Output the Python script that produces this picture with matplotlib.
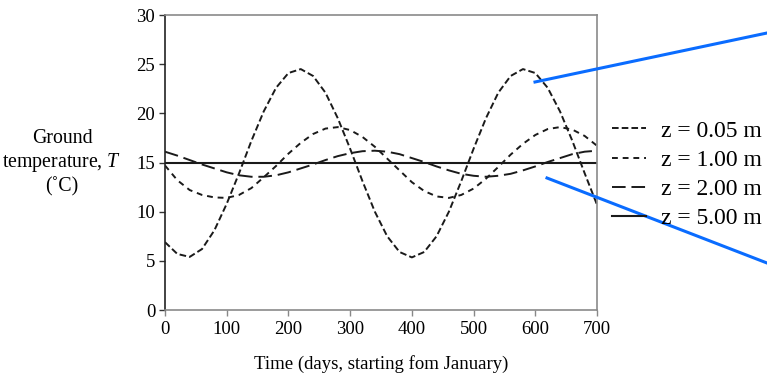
import matplotlib
matplotlib.use("Agg")
import matplotlib.pyplot as plt
from matplotlib.lines import Line2D

# dados (dias, temperatura em graus C)
days = [0, 20, 40, 60, 80, 100, 120, 140, 160, 180, 200, 220, 240, 260, 280, 300,
        320, 340, 360, 380, 400, 420, 440, 460, 480, 500, 520, 540, 560, 580, 600,
        620, 640, 660, 680, 700]

t_005 = [6.9, 5.7, 5.4, 6.2, 8.1, 10.8, 13.9, 17.2, 20.2, 22.6, 24.1, 24.5, 23.8,
         22.1, 19.5, 16.4, 13.1, 10.0, 7.5, 5.9, 5.35, 5.9, 7.5, 10.0, 13.1, 16.4,
         19.5, 22.1, 23.8, 24.5, 24.1, 22.6, 20.2, 17.2, 13.9, 10.7]

t_100 = [14.7, 13.2, 12.2, 11.7, 11.45, 11.4, 11.7, 12.4, 13.5, 14.65, 15.9, 17.0,
         17.9, 18.45, 18.6, 18.3, 17.6, 16.6, 15.4, 14.2, 13.0, 12.1, 11.55, 11.4,
         11.7, 12.35, 13.35, 14.55, 15.8, 16.9, 17.8, 18.4, 18.6, 18.35, 17.7, 16.7]

t_200 = [16.1, 15.7, 15.25, 14.8, 14.4, 14.0, 13.7, 13.55, 13.55, 13.7, 14.0, 14.4,
         14.8, 15.25, 15.65, 15.95, 16.15, 16.2, 16.1, 15.85, 15.45, 15.05, 14.6,
         14.2, 13.85, 13.65, 13.55, 13.65, 13.85, 14.2, 14.6, 15.05, 15.45, 15.85,
         16.1, 16.2]

t_500 = [14.9] * len(days)

labels = ["z = 0.05 m", "z = 1.00 m", "z = 2.00 m", "z = 5.00 m"]
x_ticks = [0, 100, 200, 300, 400, 500, 600, 700]
y_ticks = [0, 5, 10, 15, 20, 25, 30]

plt.rcParams['font.family'] = ['Liberation Serif', 'DejaVu Serif']
plt.rcParams['mathtext.fontset'] = 'custom'
plt.rcParams['mathtext.it'] = 'Liberation Serif:italic'
plt.rcParams['mathtext.rm'] = 'Liberation Serif'
fs = 13.5

fig = plt.figure(figsize=(7.67, 3.8), dpi=100)
ax = fig.add_axes([0.2151, 0.1842, 0.5633, 0.7763])

c = '#1a1a1a'
ax.plot(days, t_005, color=c, lw=1.4, linestyle=(0, (3.4, 1.6)), label=labels[0])
ax.plot(days, t_100, color=c, lw=1.4, linestyle=(0, (3.0, 2.5)), label=labels[1])
ax.plot(days, t_200, color=c, lw=1.4, linestyle=(0, (7.0, 3.0)), label=labels[2])
ax.plot(days, t_500, color=c, lw=1.5, linestyle='-', label=labels[3])

ax.set_xlim(0, 700)
ax.set_ylim(0, 30)
ax.set_xticks(x_ticks)
ax.set_yticks(y_ticks)
ax.tick_params(axis='both', direction='out', length=4, width=1.0, labelsize=fs, pad=3)
ax.tick_params(axis='x', color='#888888', pad=4)
ax.tick_params(axis='y', color='#333333')

for side in ['top', 'right', 'bottom']:
    ax.spines[side].set_color('#8a8a8a')
    ax.spines[side].set_linewidth(1.2)
ax.spines['left'].set_color('#222222')
ax.spines['left'].set_linewidth(1.2)

ax.set_xlabel("Time (days, starting fom January)", fontsize=fs, labelpad=12)
fig.text(62 / 767, 1 - 163 / 380, "Ground\ntemperature, $T$\n(\u02daC)", fontsize=14.3,
         ha='center', va='center', multialignment='center', linespacing=1.2)

fig.legend(loc='upper left', bbox_to_anchor=(612 / 767, 1 - 120 / 380),
           frameon=False, fontsize=17, handlelength=1.45, handletextpad=0.62,
           labelspacing=0.33, borderaxespad=0, borderpad=0)

# linhas azuis de destaque
blue = '#0a6cff'
fig.add_artist(Line2D([535 / 767, 1.0], [1 - 82 / 380, 1 - 33 / 380],
                      transform=fig.transFigure, color=blue, lw=2.2))
fig.add_artist(Line2D([547 / 767, 1.0], [1 - 178 / 380, 1 - 263 / 380],
                      transform=fig.transFigure, color=blue, lw=2.2))

fig.savefig('out.png', dpi=100)
